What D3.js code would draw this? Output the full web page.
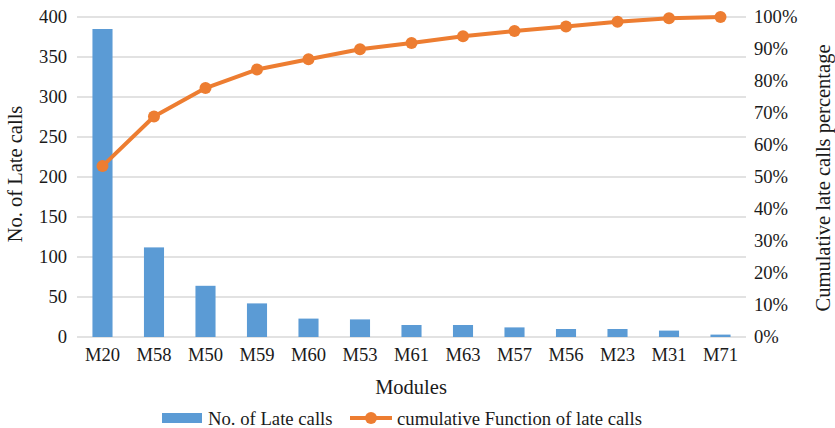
<!DOCTYPE html>
<html>
<head>
<meta charset="utf-8">
<script src="https://cdn.jsdelivr.net/npm/d3@7"></script>
<style>
  body { margin: 0; background: #fff; }
  svg text { font-family: "Liberation Serif", "Times New Roman", serif !important; fill: #1a1a1a; }
</style>
</head>
<body>
<svg width="835" height="428"></svg>
<script>
var modules = ["M20", "M58", "M50", "M59", "M60", "M53", "M61", "M63", "M57", "M56", "M23", "M31", "M71"];
var lateCalls = [385, 112, 64, 42, 23, 22, 15, 15, 12, 10, 10, 8, 3];
var cumulativePct = [53.4, 68.9, 77.8, 83.6, 86.8, 89.9, 91.9, 94.0, 95.6, 97.0, 98.5, 99.6, 100];
var leftTicks = [0, 50, 100, 150, 200, 250, 300, 350, 400];
var rightTicks = [0, 10, 20, 30, 40, 50, 60, 70, 80, 90, 100];

var width = 835, height = 428;
var margin = {top: 17, right: 89, bottom: 91, left: 77};
var serif = "'Liberation Serif', 'Times New Roman', serif";
var svg = d3.select("svg").attr("font-family", serif);

var x = d3.scaleBand()
    .domain(modules)
    .range([margin.left, width - margin.right])
    .paddingInner(0.61)
    .paddingOuter(0.3);
var y = d3.scaleLinear().domain([0, 400]).range([height - margin.bottom, margin.top]);
var y2 = d3.scaleLinear().domain([0, 100]).range([height - margin.bottom, margin.top]);

// grid lines
svg.append("g")
    .selectAll("line")
    .data(leftTicks)
    .join("line")
    .attr("x1", margin.left)
    .attr("x2", width - margin.right)
    .attr("y1", d => y(d))
    .attr("y2", d => y(d))
    .style("stroke", "#d9d9d9")
    .style("stroke-width", 1.3);

// left axis
var gL = svg.append("g")
    .attr("transform", "translate(" + margin.left + ",0)")
    .call(d3.axisLeft(y).tickValues(leftTicks).tickSize(0).tickPadding(10));
gL.attr("font-family", serif).attr("font-size", 18.6);
gL.select(".domain").remove();

// right axis
var gR = svg.append("g")
    .attr("transform", "translate(" + (width - margin.right) + ",0)")
    .call(d3.axisRight(y2).tickValues(rightTicks).tickSize(0).tickPadding(8).tickFormat(d => d + "%"));
gR.attr("font-family", serif).attr("font-size", 18.6);
gR.select(".domain").remove();

// bottom axis
var gB = svg.append("g")
    .attr("transform", "translate(0," + (height - margin.bottom) + ")")
    .call(d3.axisBottom(x).tickSize(0).tickPadding(11));
gB.attr("font-family", serif).attr("font-size", 18.6);
gB.select(".domain").remove();

// bars
svg.append("g")
    .selectAll("rect")
    .data(lateCalls)
    .join("rect")
    .attr("x", (d, i) => x(modules[i]))
    .attr("y", d => y(d))
    .attr("width", x.bandwidth())
    .attr("height", d => y(0) - y(d))
    .style("fill", "#5b9bd5");

// cumulative line
var line = d3.line()
    .x((d, i) => x(modules[i]) + x.bandwidth() / 2)
    .y(d => y2(d));
svg.append("path")
    .datum(cumulativePct)
    .attr("d", line)
    .style("fill", "none")
    .style("stroke", "#ed7d31")
    .style("stroke-width", 4)
    .style("stroke-linejoin", "round");
svg.append("g")
    .selectAll("circle")
    .data(cumulativePct)
    .join("circle")
    .attr("cx", (d, i) => x(modules[i]) + x.bandwidth() / 2)
    .attr("cy", d => y2(d))
    .attr("r", 6)
    .style("fill", "#ed7d31");

// axis titles
svg.append("text")
    .attr("transform", "translate(22,174) rotate(-90)")
    .attr("text-anchor", "middle")
    .style("font-size", "20.5px")
    .text("No. of Late calls");
svg.append("text")
    .attr("transform", "translate(830,178) rotate(-90)")
    .attr("text-anchor", "middle")
    .style("font-size", "20.5px")
    .text("Cumulative late calls percentage");
svg.append("text")
    .attr("x", 411)
    .attr("y", 394)
    .attr("text-anchor", "middle")
    .style("font-size", "20.5px")
    .text("Modules");

// legend
var lg = svg.append("g");
lg.append("rect")
    .attr("x", 162).attr("y", 413).attr("width", 40).attr("height", 10)
    .style("fill", "#5b9bd5");
lg.append("text")
    .attr("x", 208).attr("y", 425)
    .style("font-size", "18.7px")
    .text("No. of Late calls");
lg.append("line")
    .attr("x1", 350).attr("x2", 392).attr("y1", 418).attr("y2", 418)
    .style("stroke", "#ed7d31").style("stroke-width", 4);
lg.append("circle")
    .attr("cx", 371).attr("cy", 418).attr("r", 6)
    .style("fill", "#ed7d31");
lg.append("text")
    .attr("x", 397).attr("y", 425)
    .style("font-size", "18.7px")
    .text("cumulative Function of late calls");
</script>
</body>
</html>
